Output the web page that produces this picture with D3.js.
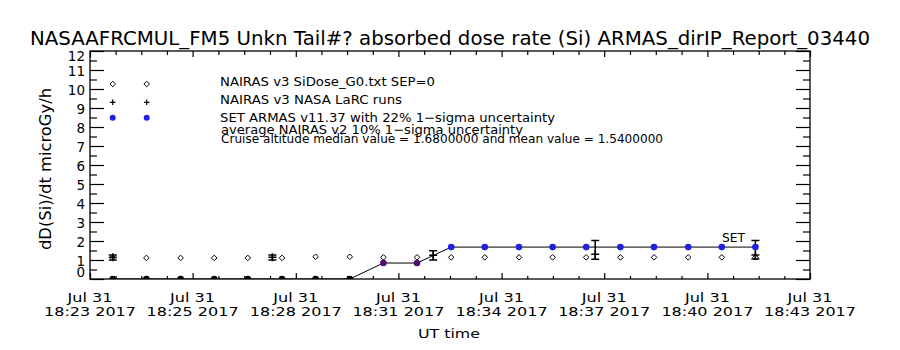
<!DOCTYPE html>
<html><head><meta charset="utf-8">
<script src="https://cdn.jsdelivr.net/npm/d3@7"></script>
<style>body{margin:0;background:#fff}text{font-family:"DejaVu Sans",sans-serif;fill:#000}</style>
</head><body><svg id="c" width="900" height="350"></svg>
<script>
const titleText = "NASAAFRCMUL_FM5 Unkn Tail#? absorbed dose rate (Si) ARMAS_dirIP_Report_03440";
const yTitle = "dD(Si)/dt microGy/h";
const xTitle = "UT time";
const day = "2017-07-31";
const xDomain = ["18:23:00", "18:43:00"];
const xTickTimes = ["18:23:00","18:25:51","18:28:43","18:31:34","18:34:26","18:37:17","18:40:09","18:43:00"];
const yTicks = [0,1,2,3,4,5,6,7,8,9,10,11,12];
const yDomain = [0, 12];

// NAIRAS v3 SiDose (diamonds) and SET ARMAS (dots) share the sample times
const sampleTimes = ["18:23:38","18:24:34","18:25:31","18:26:27","18:27:23","18:28:20","18:29:16","18:30:13",
  "18:31:09","18:32:05","18:33:02","18:33:58","18:34:55","18:35:51","18:36:47","18:37:44",
  "18:38:40","18:39:37","18:40:33","18:41:29"];
const nairasV3 = [1.12,1.11,1.11,1.11,1.11,1.11,1.17,1.17,1.14,1.14,1.14,1.14,1.14,1.14,1.14,1.14,1.14,1.14,1.14,1.14];
const armas = [0,0,0,0,0,0,0,0,0.84,0.84,1.68,1.68,1.68,1.68,1.68,1.68,1.68,1.68,1.68,1.68];

// NAIRAS v3 NASA LaRC runs (+) with average NAIRAS v2 10% uncertainty bars
const larcTimes = ["18:23:38","18:28:04","18:32:32","18:37:02","18:41:29"];
const larcValues = [1.14,1.14,1.25,1.30,1.26];
const errLow = [1.00,1.00,1.00,1.04,1.05];
const errHigh = [1.26,1.26,1.49,2.02,2.02];

const legendLabels = ["NAIRAS v3 SiDose_G0.txt SEP=0","NAIRAS v3 NASA LaRC runs","SET ARMAS v11.37 with 22% 1\u2212sigma uncertainty"];
const noteLines = ["average NAIRAS v2 10% 1\u2212sigma uncertainty","Cruise altitude median value = 1.6800000 and mean value = 1.5400000"];
const setLabel = "SET";

const blue = "#1f1fe6";
const parse = d3.timeParse("%Y-%m-%d %H:%M:%S");
const T = s => parse(day + " " + s);

const svg = d3.select("#c");
svg.append("rect").attr("width",900).attr("height",350).attr("fill","#fff");

const L = 90, R = 810, Tp = 51, B = 279;
const x = d3.scaleTime().domain(xDomain.map(T)).range([L, R]);
const y = d3.scaleLinear().domain(yDomain).range([B, Tp]);
const color = d3.scaleLinear().domain([0, 0.84, 1.68]).range(["#000000", "#4d0a70", blue]);

svg.append("clipPath").attr("id","plot").append("rect").attr("x",L).attr("y",Tp).attr("width",R-L).attr("height",B-Tp);

// title
svg.append("text").attr("x",30).attr("y",45).attr("font-size",19)
  .attr("textLength",840).attr("lengthAdjust","spacingAndGlyphs").text(titleText);

// axes ticks
function clean(g){ g.select(".domain").remove(); g.selectAll("line").attr("stroke","#000").attr("stroke-width",1.2); }
const yMinor = d3.range(0.5, 12, 1);
svg.append("g").attr("transform",`translate(${L},0)`).call(d3.axisLeft(y).tickValues(yTicks).tickSize(-14).tickFormat("")).call(clean);
svg.append("g").attr("transform",`translate(${L},0)`).call(d3.axisLeft(y).tickValues(yMinor).tickSize(-7).tickFormat("")).call(clean);
svg.append("g").attr("transform",`translate(${R},0)`).call(d3.axisRight(y).tickValues(yTicks).tickSize(-14).tickFormat("")).call(clean);
svg.append("g").attr("transform",`translate(${R},0)`).call(d3.axisRight(y).tickValues(yMinor).tickSize(-7).tickFormat("")).call(clean);

const xMajor = xTickTimes.map(T);
const xMinor = [];
for (let i = 0; i < xMajor.length - 1; i++) {
  const a = +xMajor[i], b = +xMajor[i+1];
  for (let k = 1; k < 4; k++) xMinor.push(new Date(a + (b - a) * k / 4));
}
svg.append("g").attr("transform",`translate(0,${B})`).call(d3.axisBottom(x).tickValues(xMajor).tickSize(-6).tickFormat("")).call(clean);
svg.append("g").attr("transform",`translate(0,${B})`).call(d3.axisBottom(x).tickValues(xMinor).tickSize(-3).tickFormat("")).call(clean);
svg.append("g").attr("transform",`translate(0,${Tp})`).call(d3.axisTop(x).tickValues(xMajor).tickSize(-6).tickFormat("")).call(clean);
svg.append("g").attr("transform",`translate(0,${Tp})`).call(d3.axisTop(x).tickValues(xMinor).tickSize(-4).tickFormat("")).call(clean);

// y tick labels
svg.append("g").selectAll("text").data(yTicks).join("text")
  .attr("x", L - 5).attr("text-anchor","end").attr("font-size",13.5)
  .attr("y", d => y(d) + (d === yDomain[0] ? -7 : d === yDomain[1] ? 5.5 : 1)).attr("dy","0.36em")
  .text(d => d);

// x tick labels
const fmtDay = d3.timeFormat("%b %d"), fmtTime = d3.timeFormat("%H:%M %Y");
const xl = svg.append("g").selectAll("g").data(xMajor).join("g");
xl.append("text").attr("x", d => x(d)).attr("y", 302).attr("text-anchor","middle").attr("font-size",12)
  .attr("textLength",45).attr("lengthAdjust","spacingAndGlyphs").text(fmtDay);
xl.append("text").attr("x", d => x(d)).attr("y", 316).attr("text-anchor","middle").attr("font-size",12)
  .attr("textLength",92).attr("lengthAdjust","spacingAndGlyphs").text(fmtTime);

// axis titles
svg.append("text").attr("x",449).attr("y",338).attr("text-anchor","middle").attr("font-size",12.5)
  .attr("textLength",62).attr("lengthAdjust","spacingAndGlyphs").text(xTitle);
svg.append("text").attr("transform","translate(51,169) rotate(-90)").attr("text-anchor","middle").attr("font-size",16)
  .attr("textLength",162).attr("lengthAdjust","spacingAndGlyphs").text(yTitle);

// frame
svg.append("rect").attr("x",L).attr("y",Tp).attr("width",R-L).attr("height",B-Tp)
  .attr("fill","none").attr("stroke","#000").attr("stroke-width",1.3);

const plot = svg.append("g").attr("clip-path","url(#plot)");
const diamond = (cx, cy, s) => `M${cx},${cy-s}L${cx+s},${cy}L${cx},${cy+s}L${cx-s},${cy}Z`;
const plus = (cx, cy, s) => `M${cx-s},${cy}H${cx+s}M${cx},${cy-s}V${cy+s}`;

// NAIRAS v3 diamonds
plot.selectAll("path.dia").data(sampleTimes).join("path").attr("class","dia")
  .attr("d", (t,i) => diamond(x(T(t)), y(nairasV3[i]), 2.8))
  .attr("fill","none").attr("stroke","#000").attr("stroke-width",1);

// ARMAS line
const line = d3.line().x(d => x(T(d[0]))).y(d => y(d[1]));
plot.append("path").attr("d", line(sampleTimes.map((t,i) => [t, armas[i]])))
  .attr("fill","none").attr("stroke","#000").attr("stroke-width",1);

// error bars + LaRC plus
const eb = plot.selectAll("g.eb").data(larcTimes).join("g").attr("class","eb");
eb.append("path").attr("d", (t,i) => {
  const cx = x(T(t)), lo = y(errLow[i]), hi = y(errHigh[i]);
  return `M${cx},${lo}V${hi}M${cx-4},${lo}H${cx+4}M${cx-4},${hi}H${cx+4}`;
}).attr("stroke","#000").attr("stroke-width",1.5).attr("fill","none");
eb.append("path").attr("d", (t,i) => plus(x(T(t)), y(larcValues[i]), 4))
  .attr("stroke","#000").attr("stroke-width",1.5).attr("fill","none");

// ARMAS dots
plot.selectAll("circle.ar").data(sampleTimes).join("circle").attr("class","ar")
  .attr("cx", t => x(T(t))).attr("cy", (t,i) => y(armas[i])).attr("r",3.3)
  .attr("fill", (t,i) => color(armas[i]));

// SET label
svg.append("text").attr("x",722).attr("y",241.5).attr("font-size",12.5)
  .attr("textLength",23).attr("lengthAdjust","spacingAndGlyphs").text(setLabel);

// legend
const legX = [112.7, 146.7], legY = [84, 102.3, 117.7];
legX.forEach(lx => {
  svg.append("path").attr("d", diamond(lx, legY[0], 2.8)).attr("fill","none").attr("stroke","#000");
  svg.append("path").attr("d", plus(lx, legY[1], 2.8)).attr("fill","none").attr("stroke","#000").attr("stroke-width",1.2);
  svg.append("circle").attr("cx", lx).attr("cy", legY[2]).attr("r",3).attr("fill",blue);
});
const legW = [215, 182, 335];
const legBase = [85.7, 104.3, 122.3];
svg.append("g").selectAll("text").data(legendLabels).join("text")
  .attr("x",220).attr("y",(d,i) => legBase[i]).attr("font-size",12.5)
  .attr("textLength",(d,i) => legW[i]).attr("lengthAdjust","spacingAndGlyphs").text(d => d);
const noteW = [302, 442], noteBase = [134, 142.7];
svg.append("g").selectAll("text").data(noteLines).join("text")
  .attr("x",221).attr("y",(d,i) => noteBase[i]).attr("font-size",12.5)
  .attr("textLength",(d,i) => noteW[i]).attr("lengthAdjust","spacingAndGlyphs").text(d => d);
</script></body></html>
